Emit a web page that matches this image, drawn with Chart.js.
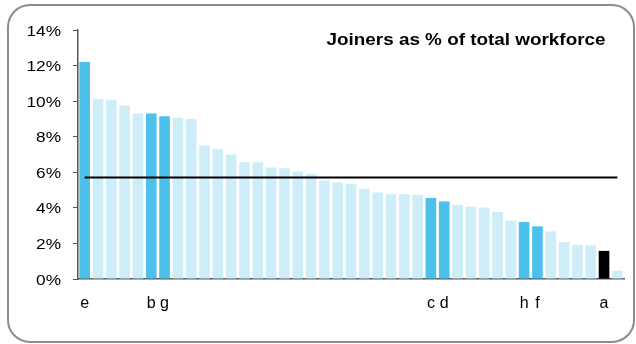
<!DOCTYPE html>
<html>
<head>
<meta charset="utf-8">
<script src="https://cdn.jsdelivr.net/npm/chart.js@4"></script>
<style>
  html, body { margin: 0; padding: 0; background: #fff; }
  #wrap { width: 636px; height: 344px; position: relative; }
</style>
</head>
<body>
<div id="wrap"><canvas id="joiners"></canvas></div>
<script>
  // one bar per company, sorted; only the highlighted ones carry a letter
  const companyLabels = ['e', '', '', '', '', 'b', 'g', '', '', '', '', '', '', '', '', '', '', '', '', '', '',
    '', '', '', '', '', 'c', 'd', '', '', '', '', '', 'h', 'f', '', '', '', '', 'a', ''];
  const joinerPct = [12.2, 10.1, 10.05, 9.75, 9.3, 9.3, 9.15, 9.05, 9.0, 7.5, 7.3, 7.0, 6.57, 6.57, 6.27, 6.22, 6.05, 5.92, 5.53, 5.42, 5.35,
    5.08, 4.86, 4.77, 4.77, 4.73, 4.56, 4.36, 4.17, 4.06, 4.02, 3.78, 3.28, 3.2, 2.96, 2.68, 2.07, 1.92, 1.88, 1.58, 0.46];
  const averagePct = 5.7;
  const yTicks = [0, 2, 4, 6, 8, 10, 12, 14];

  const lightBlue = '#cdedf9';
  const darkBlue = '#4bc1eb';

  const barColors = companyLabels.map(function (l) {
    if (l === 'a') return '#000000';
    if (l !== '') return darkBlue;
    return lightBlue;
  });

  // draws text right-aligned at x, stretched sideways a bit like the original
  function wideText(c, txt, x, y, stretch) {
    c.save();
    c.translate(x, y);
    c.scale(stretch, 1);
    c.textAlign = 'right';
    c.textBaseline = 'alphabetic';
    c.fillText(txt, 0, 0);
    c.restore();
  }

  const framePlugin = {
    id: 'frame',
    beforeDraw(chart) {
      const c = chart.ctx;
      c.save();
      c.strokeStyle = '#8c8c8c';
      c.lineWidth = 2;
      c.beginPath();
      c.roundRect(8, 5, 626, 337, 22);
      c.stroke();
      c.fillStyle = '#000';
      c.font = 'bold 17px "Liberation Sans", Arial, sans-serif';
      const title = 'Joiners as % of total workforce';
      const w = c.measureText(title).width;
      wideText(c, title, 605.5, 44.5, 279 / w);
      c.restore();
    },
    afterDraw(chart) {
      const c = chart.ctx;
      const y = chart.scales.y;
      c.save();
      c.fillStyle = '#000';
      c.font = '15px "Liberation Sans", Arial, sans-serif';
      yTicks.forEach(function (v) {
        wideText(c, v + '%', 61, y.getPixelForValue(v) + 5.5, 1.15);
      });
      c.restore();
    }
  };

  const ctx = document.getElementById('joiners').getContext('2d');

  const chart = new Chart(ctx, {
    type: 'bar',
    data: {
      labels: companyLabels,
      datasets: [{
        type: 'line',
        data: companyLabels.map(function () { return averagePct; }),
        borderColor: '#000',
        borderWidth: 2,
        pointRadius: 0,
        order: 0
      }, {
        data: joinerPct,
        backgroundColor: barColors,
        borderWidth: 0,
        categoryPercentage: 1,
        barPercentage: 0.8,
        order: 1
      }]
    },
    options: {
      responsive: true,
      maintainAspectRatio: false,
      animation: false,
      layout: { padding: { top: 30, right: 12, left: 0, bottom: 0 } },
      plugins: { legend: { display: false }, tooltip: { enabled: false } },
      scales: {
        x: {
          grid: { display: false, drawTicks: false },
          border: { display: true, color: '#555', width: 1.5 },
          ticks: {
            autoSkip: false,
            maxRotation: 0,
            padding: 15,
            color: '#000',
            font: { family: '"Liberation Sans", Arial', size: 16 }
          },
          afterFit(scale) { scale.height = 65; }
        },
        y: {
          min: 0,
          max: 14,
          afterBuildTicks(scale) {
            scale.ticks = yTicks.map(function (v) { return { value: v }; });
          },
          grid: { drawOnChartArea: false, drawTicks: true, tickLength: 5, color: '#555' },
          border: { display: true, color: '#555', width: 1.5 },
          ticks: {
            padding: 10,
            color: 'rgba(0,0,0,0)',
            font: { family: '"Liberation Sans", Arial', size: 15 },
            callback: function (v) { return v + '%'; }
          },
          afterFit(scale) { scale.width = 78; }
        }
      }
    },
    plugins: [framePlugin]
  });
</script>
</body>
</html>
